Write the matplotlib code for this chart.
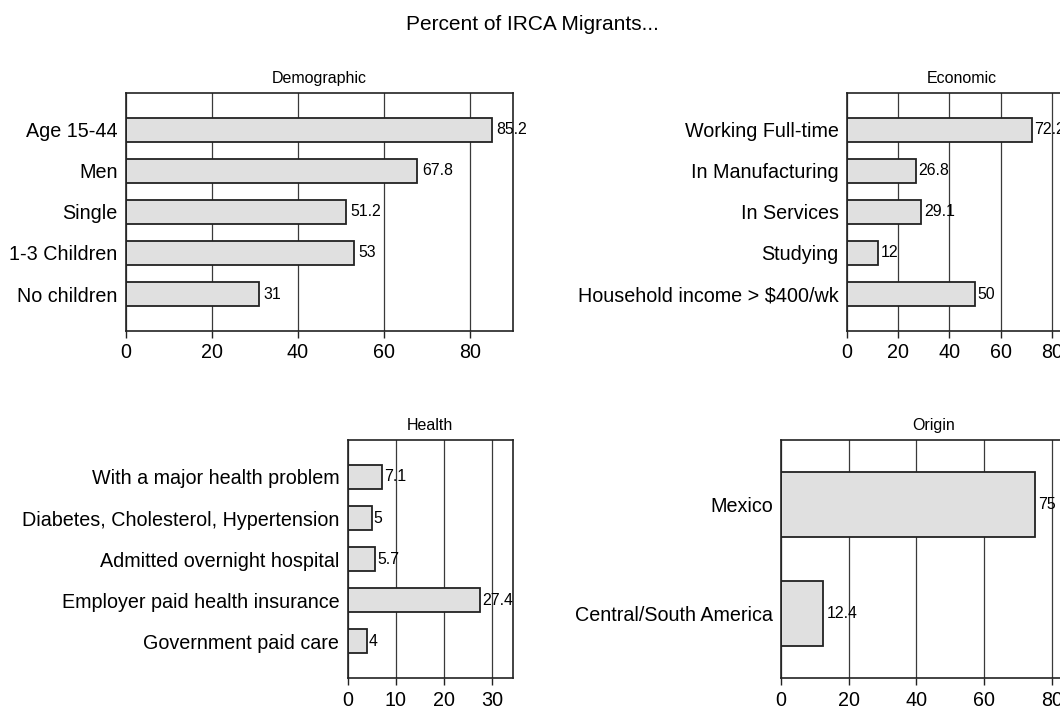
import numpy as np
import matplotlib.pyplot as plt

plt.rcParams['font.family'] = ['Liberation Sans', 'DejaVu Sans']

demo_labels = ['Age 15-44', 'Men', 'Single', '1-3 Children', 'No children']
demo_vals = [85.2, 67.8, 51.2, 53, 31]

econ_labels = ['Working Full-time', 'In Manufacturing', 'In Services', 'Studying',
               'Household income > $400/wk']
econ_vals = [72.2, 26.8, 29.1, 12, 50]

health_labels = ['With a major health problem', 'Diabetes, Cholesterol, Hypertension',
                 'Admitted overnight hospital', 'Employer paid health insurance',
                 'Government paid care']
health_vals = [7.1, 5, 5.7, 27.4, 4]

origin_labels = ['Mexico', 'Central/South America']
origin_vals = [75, 12.4]

W, H = 1060, 708
fig = plt.figure(figsize=(W / 100, H / 100), dpi=100)


def make_ax(left, right, top, bottom):
    return fig.add_axes([left / W, 1 - bottom / H, (right - left) / W, (bottom - top) / H])


def panel(ax, title, labels, vals, xmax, ticks, margin, bar_h):
    n = len(vals)
    y = np.arange(n)
    ax.set_axisbelow(True)
    ax.barh(y, vals, height=bar_h, color='#e0e0e0', edgecolor='#222222', linewidth=1.3, zorder=2)
    for yi, v in zip(y, vals):
        ax.text(v + xmax * 0.012, yi, f'{v:g}', va='center', ha='left', fontsize=11.4, zorder=3)
    ax.set_xlim(0, xmax)
    ax.set_ylim(n - 1 + margin, -margin)
    ax.set_xticks(ticks)
    ax.set_yticks(y)
    ax.set_yticklabels(labels, fontsize=14.2)
    ax.tick_params(axis='x', labelsize=14.2, length=5, width=1, color='#222222', pad=4)
    ax.tick_params(axis='y', length=0, pad=6)
    ax.grid(axis='x', color='#3a3a3a', linewidth=0.9)
    for s in ax.spines.values():
        s.set_color('#222222')
        s.set_linewidth(1.2)
    ax.set_title(title, fontsize=11.5, pad=7)


ax1 = make_ax(126, 512.7, 92.7, 331)
panel(ax1, 'Demographic', demo_labels, demo_vals, 90, [0, 20, 40, 60, 80], 0.9, 0.58)

ax2 = make_ax(847, 847 + 90 * 2.56, 92.7, 331)
panel(ax2, 'Economic', econ_labels, econ_vals, 90, [0, 20, 40, 60, 80], 0.9, 0.58)

ax3 = make_ax(347.7, 512.7, 440, 678.3)
panel(ax3, 'Health', health_labels, health_vals, 34.2, [0, 10, 20, 30], 0.9, 0.58)

ax4 = make_ax(781, 781 + 90 * 3.385, 440, 678.3)
panel(ax4, 'Origin', origin_labels, origin_vals, 90, [0, 20, 40, 60, 80], 0.6, 0.6)

fig.text(532 / W, 1 - 24 / H, 'Percent of IRCA Migrants...', ha='center', va='center', fontsize=15)

fig.savefig('out.png', dpi=100)
